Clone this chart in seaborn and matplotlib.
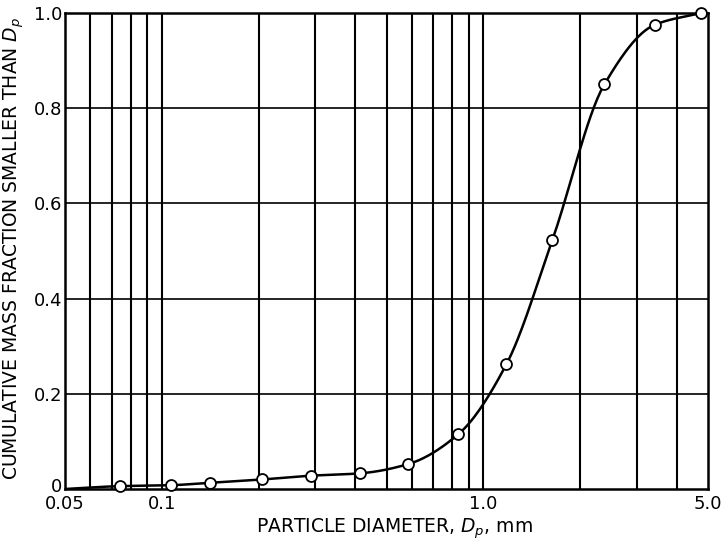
import numpy as np
import pandas as pd
import matplotlib
matplotlib.use('Agg')
import matplotlib.pyplot as plt
from matplotlib.transforms import ScaledTranslation
import seaborn as sns

# values
diameter = [0.074, 0.107, 0.141, 0.205, 0.292, 0.415, 0.585, 0.836, 1.18, 1.64, 2.38, 3.41, 4.75]
cum_frac = [0.006, 0.008, 0.013, 0.020, 0.028, 0.033, 0.0525, 0.115, 0.262, 0.523, 0.850, 0.975, 1.0]
curve_start = (0.05, 0.0)

xtick_vals = [0.05, 0.1, 1.0, 5.0]
xtick_labels = ['0.05', '0.1', '1.0', '5.0']
ytick_vals = [0, 0.2, 0.4, 0.6, 0.8, 1.0]
ytick_labels = ['0', '0.2', '0.4', '0.6', '0.8', '1.0']
minor_grid = [0.06, 0.07, 0.08, 0.09, 0.2, 0.3, 0.4, 0.5, 0.6, 0.7, 0.8, 0.9, 2, 3, 4]


def pchip(x, y, xn):
    # monotone cubic through the points (Fritsch-Carlson)
    x = np.asarray(x, float); y = np.asarray(y, float)
    h = np.diff(x); delta = np.diff(y) / h
    d = np.zeros_like(y)
    for k in range(1, len(x) - 1):
        if delta[k-1] * delta[k] > 0:
            w1 = 2*h[k] + h[k-1]; w2 = h[k] + 2*h[k-1]
            d[k] = (w1 + w2) / (w1/delta[k-1] + w2/delta[k])
    d[0] = delta[0]; d[-1] = delta[-1]
    idx = np.clip(np.searchsorted(x, xn) - 1, 0, len(h) - 1)
    t = (xn - x[idx]) / h[idx]
    h00 = 2*t**3 - 3*t**2 + 1; h10 = t**3 - 2*t**2 + t
    h01 = -2*t**3 + 3*t**2; h11 = t**3 - t**2
    return h00*y[idx] + h10*h[idx]*d[idx] + h01*y[idx+1] + h11*h[idx]*d[idx+1]


sns.set_style('white')
plt.rcParams['font.family'] = ['DejaVu Sans']
plt.rcParams['mathtext.fontset'] = 'dejavusans'
plt.rcParams['text.color'] = 'black'
plt.rcParams['axes.labelcolor'] = 'black'

pts = pd.DataFrame({'d': diameter, 'f': cum_frac})
kx = np.log10([curve_start[0]] + diameter)
ky = np.array([curve_start[1]] + cum_frac)
lx = np.linspace(kx[0], kx[-1], 400)
curve = pd.DataFrame({'d': 10**lx, 'f': pchip(kx, ky, lx)})

fig = plt.figure(figsize=(7.21, 5.40), dpi=100)
ax = fig.add_axes([65/721, 1 - 489/540, (708 - 65)/721, (489 - 13)/540])

ax.set_xscale('log')
ax.set_xlim(0.05, 5.0)
ax.set_ylim(0, 1.0)

for v in minor_grid + [0.1, 1.0]:
    ax.axvline(v, color='black', lw=1.5, zorder=1)
for v in ytick_vals[1:-1]:
    ax.axhline(v, color='black', lw=1.2, zorder=1)

sns.lineplot(data=curve, x='d', y='f', ax=ax, color='black', lw=1.8, zorder=3)
sns.scatterplot(data=pts, x='d', y='f', ax=ax, s=62, facecolor='white',
                edgecolor='black', linewidth=1.3, zorder=4, clip_on=False)

ax.set_xticks(xtick_vals)
ax.set_xticklabels(xtick_labels)
ax.set_xticks([], minor=True)
ax.set_yticks(ytick_vals)
ax.set_yticklabels(ytick_labels)
ax.tick_params(axis='both', length=0, labelsize=13, colors='black', labelcolor='black')
ax.tick_params(axis='x', pad=4)
ax.tick_params(axis='y', pad=2)

# the "0" label sits a little above the axis line in the original
zero_lbl = ax.get_yticklabels()[0]
zero_lbl.set_transform(zero_lbl.get_transform() + ScaledTranslation(0, 0.04, fig.dpi_scale_trans))

for s in ax.spines.values():
    s.set_visible(True)
    s.set_color('black')
    s.set_linewidth(1.8)

ax.set_xlabel(r'PARTICLE DIAMETER, $D_p$, mm', fontsize=13.5, color='black')
ax.set_ylabel(r'CUMULATIVE MASS FRACTION SMALLER THAN $D_p$', fontsize=13.5, color='black')
ax.xaxis.set_label_coords(0.513, -0.058)
ax.yaxis.set_label_coords(-0.060, 0.505)

fig.savefig('out.png', dpi=100)
